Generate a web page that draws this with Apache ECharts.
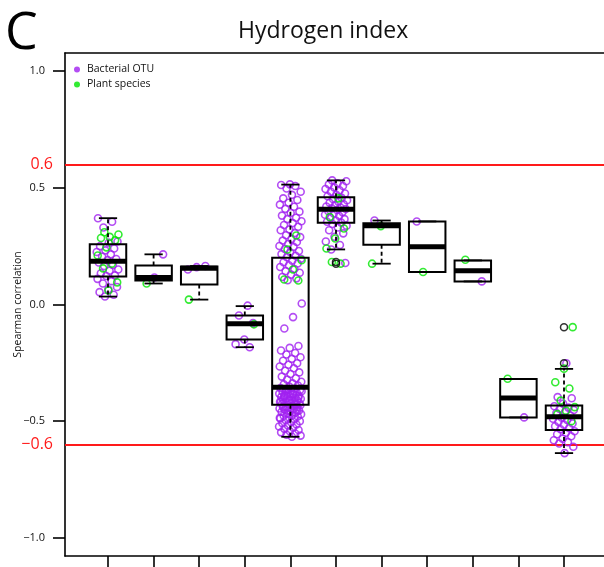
<!DOCTYPE html>
<html><head><meta charset="utf-8">
<script src="https://cdn.jsdelivr.net/npm/echarts@6/dist/echarts.min.js"></script>
<style>html,body{margin:0;padding:0;background:#fff}#c{width:604px;height:567px}</style>
</head><body><div id="c"></div>
<script>
// ---- data ----
const groups = [1,2,3,4,5,6,7,8,9,10,11];
const yTicks = [-1.0,-0.5,0.0,0.5,1.0];
const thresholds = [0.6,-0.6];
const boxLow  = [0.034,0.090,0.021,-0.183,-0.567,0.236,0.175,0.139,0.099,-0.484,-0.637];
const boxQ1   = [0.120,0.103,0.086,-0.150,-0.430,0.350,0.256,0.139,0.099,-0.484,-0.538];
const boxMed  = [0.185,0.116,0.155,-0.083,-0.355,0.408,0.338,0.247,0.145,-0.401,-0.481];
const boxQ3   = [0.258,0.167,0.163,-0.047,0.200,0.460,0.348,0.356,0.189,-0.319,-0.433];
const boxHigh = [0.370,0.215,0.165,-0.007,0.514,0.532,0.360,0.356,0.189,-0.319,-0.276];
const outlierGroup = [6,6,11,11];
const outlierValue = [0.175,0.182,-0.097,-0.252];

const bacterialOTU = [
  [0.37,0.355,0.33,0.27,0.265,0.25,0.24,0.232,0.225,0.215,0.205,0.195,0.19,0.18,0.17,0.165,0.15,0.145,0.134,0.125,0.122,0.11,0.1,0.09,0.075,0.065,0.053,0.042,0.034],
  [0.215,0.116],
  [0.165,0.16,0.15],
  [-0.005,-0.047,-0.08,-0.15,-0.17,-0.183],
  [0.515,0.512,0.508,0.497,0.483,0.47,0.455,0.448,0.436,0.428,0.419,0.41,0.398,0.392,0.381,0.372,0.366,0.357,0.349,0.341,0.333,0.322,0.318,0.306,0.297,0.289,0.281,0.274,0.268,0.259,0.251,0.247,0.238,0.229,0.224,0.216,0.209,0.203,
   0.196,0.188,0.181,0.176,0.168,0.161,0.152,0.143,0.136,0.128,0.118,0.112,0.104,0.004,-0.054,-0.103,
   -0.178,-0.186,-0.197,-0.208,-0.214,-0.226,-0.233,-0.241,-0.252,-0.258,-0.266,-0.273,-0.284,-0.291,-0.298,-0.309,-0.316,-0.322,-0.331,-0.338,
   -0.342,-0.347,-0.352,-0.358,-0.361,-0.364,-0.367,-0.371,-0.374,-0.377,-0.379,-0.382,-0.385,-0.388,-0.391,-0.393,-0.396,-0.399,-0.402,-0.404,-0.407,-0.409,-0.412,-0.414,-0.417,-0.419,-0.421,-0.423,-0.425,-0.427,-0.429,-0.361,-0.372,-0.383,-0.395,-0.401,-0.411,-0.418,-0.426,-0.369,
   -0.432,-0.435,-0.437,-0.44,-0.443,-0.446,-0.448,-0.451,-0.454,-0.457,-0.46,-0.463,-0.466,-0.47,-0.473,-0.477,-0.48,-0.484,-0.488,-0.492,-0.496,-0.5,-0.505,-0.509,-0.514,-0.518,-0.523,-0.528,-0.533,-0.538,-0.543,-0.548,-0.553,-0.558,-0.562,-0.567,-0.441,-0.456,-0.468,-0.486],
  [0.532,0.528,0.52,0.515,0.508,0.502,0.495,0.49,0.483,0.476,0.47,0.464,0.457,0.452,0.447,0.441,0.436,0.43,0.425,0.42,0.416,0.412,0.409,0.405,0.4,0.396,0.39,0.385,0.38,0.371,0.366,0.36,0.355,0.351,0.345,0.338,0.33,0.318,0.305,0.29,0.27,0.255,0.236,0.178],
  [0.36],
  [0.356],
  [0.099],
  [-0.484],
  [-0.252,-0.397,-0.402,-0.425,-0.436,-0.442,-0.448,-0.452,-0.46,-0.465,-0.476,-0.485,-0.49,-0.495,-0.503,-0.51,-0.515,-0.522,-0.53,-0.535,-0.543,-0.55,-0.556,-0.565,-0.575,-0.582,-0.59,-0.596,-0.61,-0.637]
];
const plantSpecies = [
  [0.31,0.30,0.29,0.285,0.275,0.245,0.21,0.175,0.155,0.095,0.06],
  [0.09],
  [0.021],
  [-0.085],
  [0.296,0.236,0.19,0.15,0.107,0.103],
  [0.455,0.375,0.326,0.283,0.24,0.175,0.182],
  [0.336,0.175],
  [0.139],
  [0.192],
  [-0.318],
  [-0.097,-0.275,-0.333,-0.36,-0.412,-0.44,-0.455,-0.47,-0.5]
];
const seriesNames = ['Bacterial OTU','Plant species'];
const title = 'Hydrogen index';
const panelLetter = 'C';
const yName = 'Spearman correlation';

// ---- styling / layout ----
const PURPLE = '#a020f0', GREEN = '#00e600', RED = '#ff1a1a';
const FONT = 'Open Sans';
const fmt = v => (v < 0 ? '\u2212' : '') + Math.abs(v).toFixed(1);
function jit(i, seed){ return ((((i + seed) * 0.6180339887) % 1) - 0.5) * 0.5; }

function pts(arr, seed){
  const out = [];
  arr.forEach((vals, g) => vals.forEach((v, i) => out.push([groups[g] + jit(i, seed + g * 3), v])));
  return out;
}
const boxData = groups.map((g, i) => [g, boxLow[i], boxQ1[i], boxMed[i], boxQ3[i], boxHigh[i]]);

function renderBox(params, api){
  const g = api.value(0), lo = api.value(1), q1 = api.value(2), md = api.value(3), q3 = api.value(4), hi = api.value(5);
  const hw = api.size([0.4, 0])[0];
  const sw = hw * 0.5;
  const cx = api.coord([g, 0])[0];
  const yLo = api.coord([g, lo])[1], yQ1 = api.coord([g, q1])[1], yMd = api.coord([g, md])[1], yQ3 = api.coord([g, q3])[1], yHi = api.coord([g, hi])[1];
  const st = {stroke:'#000', lineWidth:1.8, fill:null};
  const ch = [];
  if (yHi < yQ3 - 0.5) {
    ch.push({type:'line', shape:{x1:cx, y1:yQ3, x2:cx, y2:yHi}, style:{stroke:'#000', lineWidth:1.8, lineDash:[4,3]}});
  }
  ch.push({type:'line', shape:{x1:cx - sw, y1:yHi, x2:cx + sw, y2:yHi}, style:st});
  if (yLo > yQ1 + 0.5) {
    ch.push({type:'line', shape:{x1:cx, y1:yQ1, x2:cx, y2:yLo}, style:{stroke:'#000', lineWidth:1.8, lineDash:[4,3]}});
  }
  ch.push({type:'line', shape:{x1:cx - sw, y1:yLo, x2:cx + sw, y2:yLo}, style:st});
  ch.push({type:'rect', shape:{x:cx - hw, y:yQ3, width:hw * 2, height:yQ1 - yQ3}, style:{stroke:'#000', lineWidth:2, fill:'rgba(0,0,0,0)'}});
  ch.push({type:'line', shape:{x1:cx - hw, y1:yMd, x2:cx + hw, y2:yMd}, style:{stroke:'#000', lineWidth:5}});
  return {type:'group', children:ch};
}

const chart = echarts.init(document.getElementById('c'), null, {renderer:'canvas'});
const xCommon = {type:'value', min:0.057, max:11.877, splitLine:{show:false}, axisLabel:{show:false}};
chart.setOption({
  animation:false,
  backgroundColor:'#fff',
  textStyle:{fontFamily:FONT},
  title:[
    {text:panelLetter, left:0, top:3, textStyle:{fontSize:52, fontWeight:'normal', color:'#000', fontFamily:FONT}},
    {text:title, left:233, top:15, textStyle:{fontSize:23, fontWeight:'normal', color:'#111', fontFamily:FONT}}
  ],
  legend:{
    orient:'vertical', left:69, top:59, itemWidth:6, itemHeight:6, itemGap:4, icon:'circle',
    textStyle:{fontSize:10.5, color:'#111', fontFamily:FONT, padding:[0,0,0,2]},
    data:[{name:seriesNames[0], itemStyle:{color:PURPLE, borderWidth:0}},{name:seriesNames[1], itemStyle:{color:GREEN, borderWidth:0}}]
  },
  grid:{left:65, right:0, top:53, bottom:11, containLabel:false, outerBoundsMode:'none'},
  xAxis:[
    Object.assign({}, xCommon, {position:'bottom',
      axisLine:{show:true, onZero:false, lineStyle:{color:'#000', width:1.6}},
      axisTick:{show:true, customValues:groups, length:12, lineStyle:{color:'#000', width:1.6}}}),
    Object.assign({}, xCommon, {position:'top',
      axisLine:{show:true, onZero:false, lineStyle:{color:'#000', width:1.6}},
      axisTick:{show:false}})
  ],
  yAxis:{
    type:'value', min:-1.078, max:1.078, splitLine:{show:false},
    axisLine:{show:true, onZero:false, lineStyle:{color:'#000', width:1.6}},
    axisTick:{show:true, customValues:yTicks, length:12, lineStyle:{color:'#000', width:1.6}},
    axisLabel:{customValues:yTicks, formatter:fmt, fontSize:11, color:'#111', margin:20, fontFamily:FONT},
    name:yName, nameLocation:'middle', nameGap:41, nameRotate:90, nameMoveOverlap:false,
    nameTextStyle:{fontSize:10.5, color:'#111', fontFamily:FONT}
  },
  series:[
    {name:seriesNames[0], type:'scatter', data:pts(bacterialOTU, 0.1), symbol:'circle', symbolSize:7, z:2,
     itemStyle:{color:'rgba(0,0,0,0)', borderColor:PURPLE, borderWidth:1.6}},
    {name:seriesNames[1], type:'scatter', data:pts(plantSpecies, 0.55), symbol:'circle', symbolSize:7, z:3,
     itemStyle:{color:'rgba(0,0,0,0)', borderColor:GREEN, borderWidth:1.6},
     markLine:{silent:true, symbol:'none', z:1,
       lineStyle:{color:RED, width:2, type:'solid'},
       label:{show:true, position:'start', formatter:p => fmt(p.value), color:RED, fontSize:16, distance:12, fontFamily:FONT},
       data:thresholds.map(t => ({yAxis:t}))}},
    {type:'custom', renderItem:renderBox, data:boxData, z:4, encode:{x:0, y:[1,2,3,4,5]}},
    {type:'scatter', data:outlierGroup.map((g, i) => [g, outlierValue[i]]), symbol:'circle', symbolSize:7, z:5,
     itemStyle:{color:'rgba(0,0,0,0)', borderColor:'#000', borderWidth:1.5}}
  ]
});
</script>
</body></html>
